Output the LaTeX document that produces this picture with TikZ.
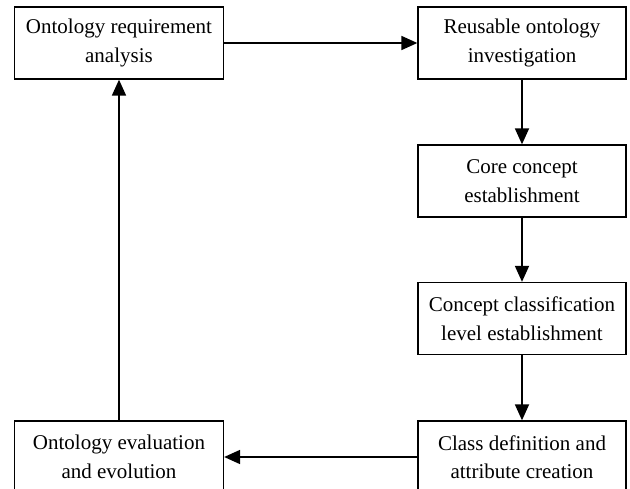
\documentclass[tikz,border=0pt]{standalone}
\usepackage{fontspec}
\setmainfont{Liberation Serif}
\usetikzlibrary{arrows.meta}
\tikzset{
  stepbox/.style={draw=black, line width=1.3pt, rectangle, minimum width=209pt, minimum height=72pt,
    align=center, inner sep=0pt, font=\fontsize{21}{28.5}\selectfont},
  flow/.style={line width=1.8pt, -{Triangle[width=14pt,length=16pt]}}
}
\begin{document}
\begin{tikzpicture}[x=1pt,y=-1pt]
\useasboundingbox (0,0) rectangle (630,489);
\clip (0,0) rectangle (630,489);
\fill[white] (0,0) rectangle (630,489);
\node[stepbox] (A) at (119,43) {Ontology requirement\\analysis};
\node[stepbox, minimum width=208pt] (B) at (522,43) {Reusable ontology\\investigation};
\node[stepbox, minimum width=208pt] (C) at (522,181) {Core concept\\establishment};
\node[stepbox, minimum width=208pt] (D) at (522,318.5) {Concept classification\\level establishment};
\node[stepbox, minimum width=208pt] (E) at (522,457) {Class definition and\\attribute creation};
\node[stepbox] (F) at (119,457) {Ontology evaluation\\and evolution};
\draw[flow] (A.east) -- (B.west);
\draw[flow] (B.south) -- (C.north);
\draw[flow] (C.south) -- (D.north);
\draw[flow] (D.south) -- (E.north);
\draw[flow] (E.west) -- (F.east);
\draw[flow] (F.north) -- (A.south);
\end{tikzpicture}
\end{document}
